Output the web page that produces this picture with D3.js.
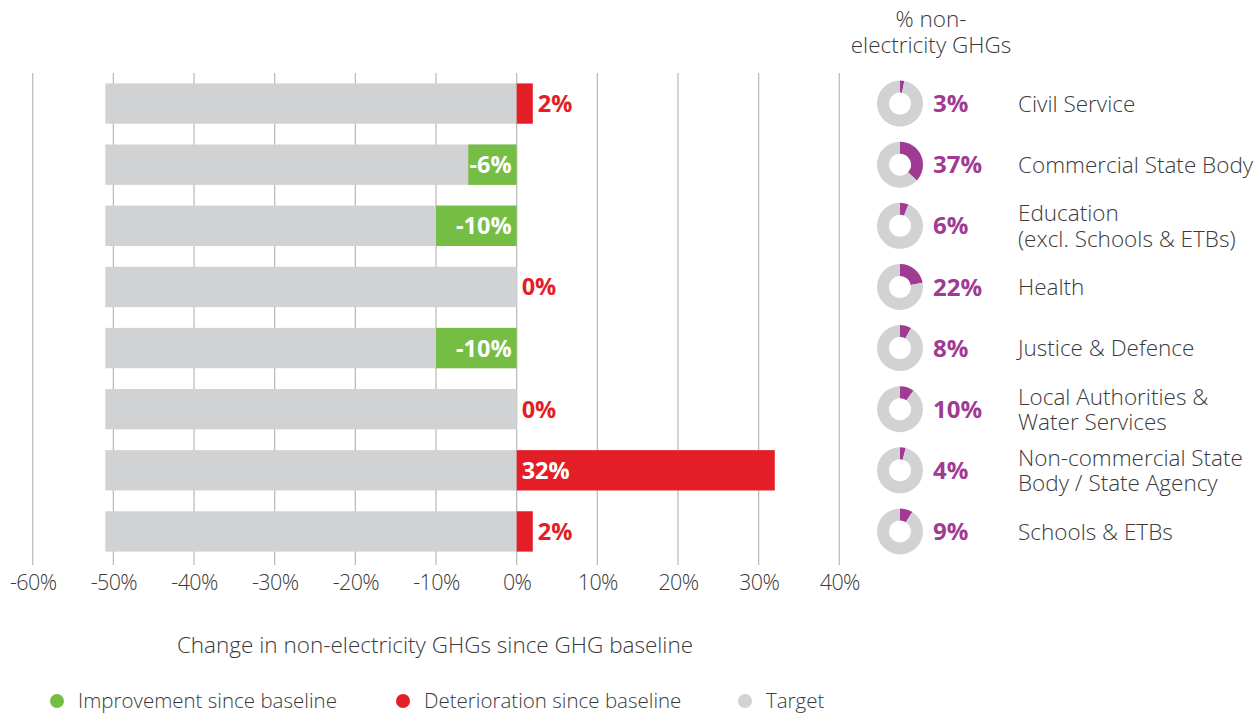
<!doctype html>
<html>
<head>
<meta charset="utf-8">
<title>Change in non-electricity GHGs</title>
<script src="https://d3js.org/d3.v7.min.js"></script>
<style>
  body { margin: 0; background: #fff; }
  svg { display: block; font-family: "Open Sans", "Noto Sans", sans-serif; }
</style>
</head>
<body>
<svg id="chart" width="1256" height="713"></svg>
<script>
// data
var sectors = ["Civil Service", "Commercial State Body", "Education|(excl. Schools & ETBs)", "Health",
  "Justice & Defence", "Local Authorities &|Water Services", "Non-commercial State|Body / State Agency", "Schools & ETBs"];
var change = [2, -6, -10, 0, -10, 0, 32, 2];
var target = [-51, -51, -51, -51, -51, -51, -51, -51];
var share = [3, 37, 6, 22, 8, 10, 4, 9];
var xTicks = [-60, -50, -40, -30, -20, -10, 0, 10, 20, 30, 40];
var legendItems = ["Improvement since baseline", "Deterioration since baseline", "Target"];

var green = "#76bd43", red = "#e31e26", grey = "#d1d2d4", purple = "#a03a93", ink = "#3a3a3a";

var svg = d3.select("#chart");

var x = d3.scaleLinear().domain([-60, 40]).range([32.7, 839.3]);
var y = d3.scaleBand().domain(d3.range(sectors.length)).range([73, 562]).paddingInner(0.34).paddingOuter(0.17);

// grid lines
svg.append("g").selectAll("line").data(xTicks).join("line")
  .attr("x1", d => x(d)).attr("x2", d => x(d))
  .attr("y1", 73).attr("y2", 565)
  .attr("stroke", "#bdbdc0").attr("stroke-width", 1.3);

// axis
var axis = svg.append("g").attr("transform", "translate(0,565)")
  .call(d3.axisBottom(x).tickValues(xTicks).tickSize(0).tickPadding(10).tickFormat(d => d + "%"));
axis.select(".domain").remove();
axis.selectAll("text").attr("font-size", 21.5).attr("fill", ink).attr("font-family", "'Open Sans', sans-serif")
  .attr("font-weight", 300).style("letter-spacing", "-0.6px");

// target bars
svg.append("g").selectAll("rect").data(target).join("rect")
  .attr("x", d => x(d)).attr("width", d => x(0) - x(d))
  .attr("y", (d, i) => y(i)).attr("height", y.bandwidth())
  .attr("fill", grey);

// change bars
svg.append("g").selectAll("rect").data(change).join("rect")
  .attr("x", d => x(Math.min(0, d))).attr("width", d => Math.abs(x(d) - x(0)))
  .attr("y", (d, i) => y(i)).attr("height", y.bandwidth())
  .attr("fill", d => d < 0 ? green : red);

// change labels
svg.append("g").selectAll("text").data(change).join("text")
  .attr("y", (d, i) => y(i) + y.bandwidth() / 2)
  .attr("dy", "0.36em")
  .attr("font-size", 23.5).attr("font-weight", 700)
  .each(function (d) {
    var t = d3.select(this);
    if (d < 0) {
      t.attr("x", x(0) - 5).attr("text-anchor", "end").attr("fill", "#fff");
    } else if (d > 10) {
      t.attr("x", x(0) + 5).attr("text-anchor", "start").attr("fill", "#fff");
    } else {
      t.attr("x", x(d) + 5).attr("text-anchor", "start").attr("fill", red);
    }
  })
  .text(d => d + "%");

// donut header
svg.append("text").attr("x", 931).attr("y", 27).attr("text-anchor", "middle")
  .attr("font-size", 22.5).attr("fill", ink).attr("font-weight", 300)
  .selectAll("tspan").data(["% non-", "electricity GHGs"]).join("tspan")
  .attr("x", 931).attr("dy", (d, i) => i ? 26 : 0).text(d => d);

// donuts
var pie = d3.pie().sort(null).value(d => d);
var arc = d3.arc().innerRadius(11).outerRadius(23);
var donuts = svg.append("g").selectAll("g").data(share).join("g")
  .attr("transform", (d, i) => "translate(900," + (y(i) + y.bandwidth() / 2) + ")");
donuts.selectAll("path").data(d => pie([d, 100 - d])).join("path")
  .attr("d", arc).attr("fill", (d, i) => i === 0 ? purple : grey);

svg.append("g").selectAll("text").data(share).join("text")
  .attr("x", 933).attr("y", (d, i) => y(i) + y.bandwidth() / 2).attr("dy", "0.36em")
  .attr("font-size", 24).attr("font-weight", 700).attr("fill", purple)
  .text(d => d + "%");

// sector names
svg.append("g").selectAll("text").data(sectors).join("text")
  .attr("y", (d, i) => y(i) + y.bandwidth() / 2)
  .attr("font-size", 22.5).attr("fill", ink).attr("font-weight", 300)
  .each(function (d) {
    var lines = d.split("|");
    d3.select(this).selectAll("tspan").data(lines).join("tspan")
      .attr("x", 1018)
      .attr("dy", (l, j) => j === 0 ? (lines.length > 1 ? "-0.2em" : "0.36em") : "1.14em")
      .text(l => l);
  });

// axis title
svg.append("text").attr("x", 435).attr("y", 653).attr("text-anchor", "middle")
  .attr("font-size", 22.5).attr("fill", ink).attr("font-weight", 300)
  .text("Change in non-electricity GHGs since GHG baseline");

// legend
var legendX = [57, 403, 745];
var legendColor = [green, red, grey];
var lg = svg.append("g").selectAll("g").data(legendItems).join("g")
  .attr("transform", (d, i) => "translate(" + legendX[i] + ",701)");
lg.append("circle").attr("r", 7).attr("fill", (d, i) => legendColor[i]);
lg.append("text").attr("x", 21).attr("dy", "0.36em")
  .attr("font-size", 20.5).attr("fill", ink).attr("font-weight", 300)
  .text(d => d);
</script>
</body>
</html>
